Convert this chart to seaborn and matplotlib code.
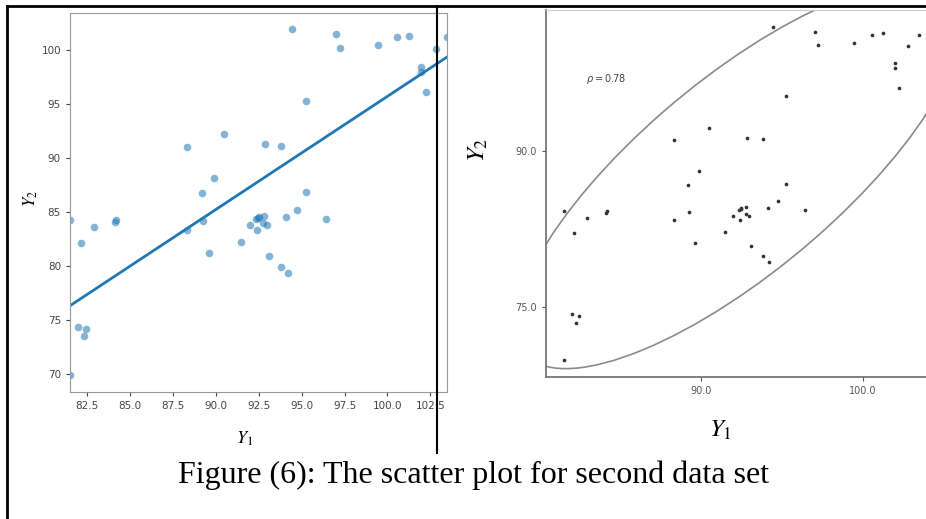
import numpy as np
import pandas as pd
import seaborn as sns
import matplotlib.pyplot as plt
import matplotlib.transforms as transforms
from matplotlib.patches import Ellipse
from matplotlib.lines import Line2D

# --- DATA ---
Y1 = [81.49, 82.15, 82.91, 84.09, 84.15, 88.33, 88.29, 89.17, 89.25, 89.61,
      89.89, 90.47, 91.46, 91.96, 92.35, 92.49, 92.39, 92.78, 92.76, 92.98,
      92.45, 92.84, 93.07, 93.81, 94.10, 94.41, 94.73, 95.25, 95.27, 96.44,
      97.02, 97.25, 99.43, 100.56, 101.26, 101.98, 101.98, 102.25, 102.81, 103.47,
      93.79, 94.20, 81.98, 82.28, 82.42, 81.49]
Y2 = [84.20, 82.07, 83.55, 84.05, 84.20, 91.02, 83.33, 86.70, 84.10, 81.18,
      88.09, 92.22, 82.16, 83.77, 84.32, 84.54, 83.33, 84.57, 83.95, 83.77,
      84.45, 91.23, 80.86, 91.11, 84.54, 101.91, 85.19, 86.79, 95.25, 84.32,
      101.48, 100.15, 100.40, 101.18, 101.30, 98.43, 97.96, 96.08, 100.06, 101.18,
      79.91, 79.35, 74.29, 73.49, 74.10, 69.88]

LEFT_XTICKS = [82.5, 85.0, 87.5, 90.0, 92.5, 95.0, 97.5, 100.0, 102.5]
LEFT_YTICKS = [70, 75, 80, 85, 90, 95, 100]
RIGHT_XTICKS = [90.0, 100.0]
RIGHT_YTICKS = [75.0, 90.0]
RHO_LABEL = r"$\rho = 0.78$"
CAPTION = "Figure (6): The scatter plot for second data set"

plt.rcParams['mathtext.fontset'] = 'stix'


def confidence_ellipse(ax, x, y, n_std=2.0, **kw):
    cov = np.cov(x, y)
    r = cov[0, 1] / np.sqrt(cov[0, 0] * cov[1, 1])
    ell = Ellipse((0, 0), width=2 * np.sqrt(1 + r), height=2 * np.sqrt(1 - r),
                  facecolor='none', **kw)
    tr = (transforms.Affine2D().rotate_deg(45)
          .scale(np.sqrt(cov[0, 0]) * n_std, np.sqrt(cov[1, 1]) * n_std)
          .translate(np.mean(x), np.mean(y)))
    ell.set_transform(tr + ax.transData)
    ax.add_patch(ell)


df = pd.DataFrame({'Y1': Y1, 'Y2': Y2})

fig = plt.figure(figsize=(9.26, 5.19), dpi=100)

# --- LEFT: scatter + regression line ---
ax1 = fig.add_axes([0.0756, 0.2447, 0.4071, 0.7303])
sns.regplot(data=df, x='Y1', y='Y2', ax=ax1, ci=None, truncate=True,
            scatter_kws={'s': 30, 'alpha': 0.55, 'color': '#1f77b4', 'linewidths': 0},
            line_kws={'color': '#1f77b4', 'lw': 2})
ax1.set_xlim(min(Y1), max(Y1))
ax1.set_ylim(68.3, 103.4)
ax1.set_xticks(LEFT_XTICKS)
ax1.set_yticks(LEFT_YTICKS)
ax1.set_xticklabels([f"{t:.1f}" for t in LEFT_XTICKS])
ax1.set_yticklabels([str(t) for t in LEFT_YTICKS])
ax1.tick_params(labelsize=7.5, colors='#444444', length=3)
for sp in ax1.spines.values():
    sp.set_color('#999999')
ax1.set_xlabel(r"$Y_1$", fontsize=13)
ax1.set_ylabel(r"$Y_2$", fontsize=12)
ax1.xaxis.set_label_coords(0.464, -0.100)
ax1.yaxis.set_label_coords(-0.08, 0.51)

# --- RIGHT: scatter + confidence ellipse ---
ax2 = fig.add_axes([0.5896, 0.2736, 0.4104, 0.7071])
sns.scatterplot(data=df, x='Y1', y='Y2', ax=ax2, s=7, color='#333333', linewidth=0)
confidence_ellipse(ax2, np.array(Y1), np.array(Y2), n_std=2.2,
                   edgecolor='#8a8a8a', lw=1.2)
ax2.set_xlim(80.4, 103.9)
ax2.set_ylim(68.25, 103.55)
ax2.set_xticks(RIGHT_XTICKS)
ax2.set_yticks(RIGHT_YTICKS)
ax2.set_xticklabels([f"{t:.1f}" for t in RIGHT_XTICKS])
ax2.set_yticklabels([f"{t:.1f}" for t in RIGHT_YTICKS])
ax2.tick_params(labelsize=7, colors='#555555', length=3)
ax2.spines['right'].set_visible(False)
ax2.spines['top'].set_color('#cccccc')
ax2.spines['left'].set_color('#777777')
ax2.spines['bottom'].set_color('#777777')
ax2.spines['left'].set_linewidth(1.3)
ax2.spines['bottom'].set_linewidth(1.3)
ax2.text(0.105, 0.805, RHO_LABEL, transform=ax2.transAxes, fontsize=7,
         color='#444444', math_fontfamily='dejavusans')
ax2.set_xlabel(r"$Y_1$", fontsize=18)
ax2.set_ylabel(r"$Y_2$", fontsize=18)
ax2.xaxis.set_label_coords(0.46, -0.112)
ax2.yaxis.set_label_coords(-0.147, 0.62)

# --- FRAME + CAPTION ---
fig.add_artist(Line2D([7 / 926, 1], [1 - 6 / 519] * 2, color='black', lw=2))
fig.add_artist(Line2D([7 / 926] * 2, [0, 1 - 6 / 519], color='black', lw=2))
fig.add_artist(Line2D([437 / 926] * 2, [1 - 453 / 519, 1 - 6 / 519], color='black', lw=1.5))
fig.text(0.511, 1 - 483 / 519, CAPTION, ha='center', va='baseline',
         fontsize=23, family='Liberation Serif')

fig.savefig("out.png", dpi=100)
